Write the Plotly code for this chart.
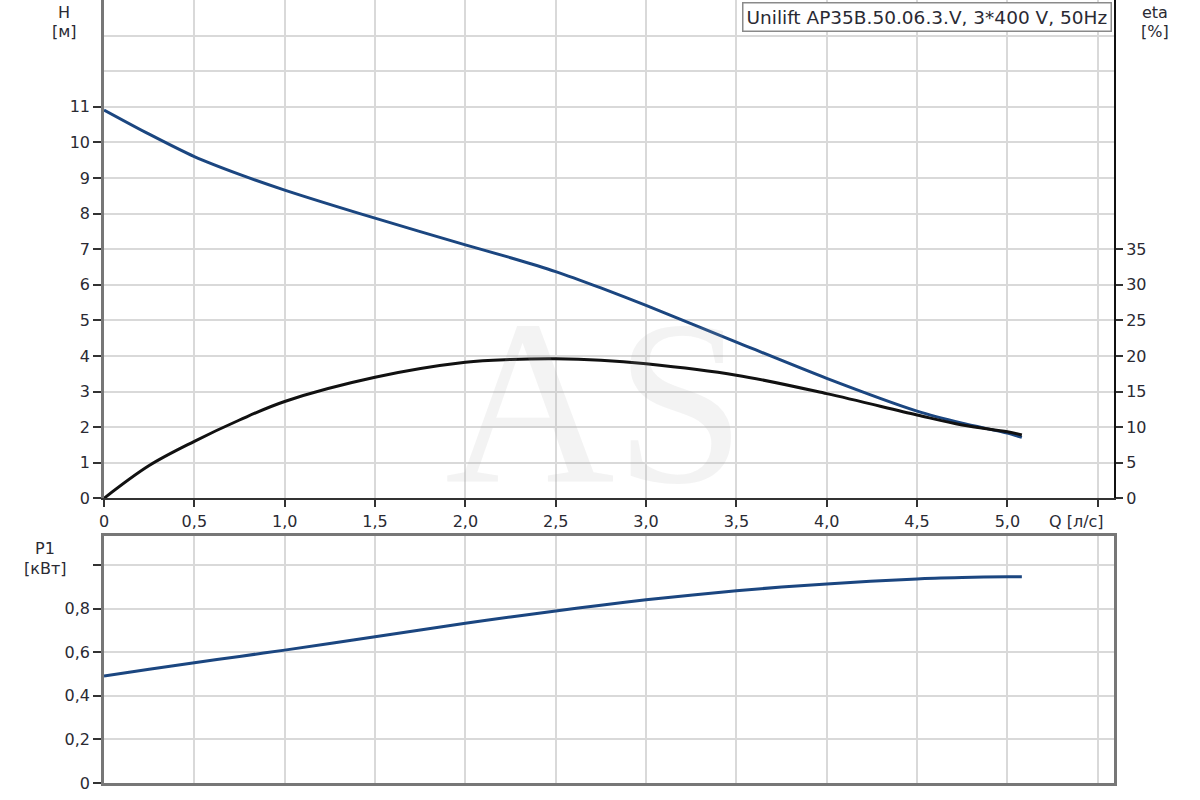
import plotly.graph_objects as go

# ---- data ----
Q = [0, 0.25, 0.5, 0.75, 1.0, 1.5, 2.0, 2.25, 2.5, 2.75, 3.0, 3.5, 4.0, 4.5, 4.75, 5.0, 5.08]
H = [10.91, 10.23, 9.60, 9.10, 8.66, 7.87, 7.12, 6.76, 6.37, 5.91, 5.42, 4.39, 3.37, 2.45, 2.11, 1.83, 1.71]
ETA = [0, 4.6, 8.0, 11.0, 13.6, 17.0, 19.1, 19.5, 19.6, 19.4, 18.9, 17.3, 14.7, 11.7, 10.3, 9.35, 8.9]
P1 = [0.491, 0.522, 0.552, 0.581, 0.610, 0.671, 0.733, 0.762, 0.790, 0.816, 0.841, 0.883, 0.914, 0.937, 0.943, 0.947, 0.947]

Q_TICKS = [0, 0.5, 1.0, 1.5, 2.0, 2.5, 3.0, 3.5, 4.0, 4.5, 5.0, 5.5]
Q_LABELS = ["0", "0,5", "1,0", "1,5", "2,0", "2,5", "3,0", "3,5", "4,0", "4,5", "5,0", ""]
H_TICKS = list(range(0, 12))
H_EXTRA_GRID = [12, 13, 14]
ETA_TICKS = [0, 5, 10, 15, 20, 25, 30, 35]
P_TICKS = [0, 0.2, 0.4, 0.6, 0.8, 1.0]
P_LABELS = ["0", "0,2", "0,4", "0,6", "0,8", ""]

TITLE = "Unilift AP35B.50.06.3.V, 3*400 V, 50Hz"

BLUE = "#1b4680"
BLACK = "#111111"
GRID = "#d9d9d9"
TXT = "#2a2a33"
FONT = "DejaVu Sans, Liberation Sans, Arial, sans-serif"

fig = go.Figure()
fig.add_trace(go.Scatter(x=Q, y=H, mode="lines", line=dict(color=BLUE, width=3, shape="spline", smoothing=0.7),
                         xaxis="x", yaxis="y", showlegend=False))
fig.add_trace(go.Scatter(x=Q, y=ETA, mode="lines", line=dict(color=BLACK, width=3, shape="spline", smoothing=1.0),
                         xaxis="x", yaxis="y2", showlegend=False))
fig.add_trace(go.Scatter(x=Q, y=P1, mode="lines", line=dict(color=BLUE, width=3, shape="spline", smoothing=0.7),
                         xaxis="x2", yaxis="y3", showlegend=False))

XR = [0, 5.59]
tickfont = dict(family=FONT, size=16, color=TXT)

fig.update_layout(
    width=1200, height=800, autosize=False,
    margin=dict(l=104, r=86, t=0, b=17),
    paper_bgcolor="white", plot_bgcolor="white",
    font=dict(family=FONT, size=16, color=TXT),
    xaxis=dict(domain=[0, 1], anchor="y", range=XR, tickmode="array", tickvals=Q_TICKS, ticktext=Q_LABELS,
               showgrid=True, gridcolor=GRID, gridwidth=1.5, zeroline=False,
               showline=True, linecolor="#333333", linewidth=2,
               ticks="outside", ticklen=7, tickwidth=2, tickcolor="#333333", tickfont=tickfont),
    yaxis=dict(domain=[0.3636, 1], anchor="x", range=[0, 14], tickmode="array", tickvals=H_TICKS,
               showgrid=True, gridcolor=GRID, gridwidth=1.5, zeroline=False,
               showline=True, linecolor="#777777", linewidth=2.5,
               ticks="outside", ticklen=8, tickwidth=2, tickcolor="#333333", tickfont=tickfont,
               minor=dict(tickmode="array", tickvals=H_EXTRA_GRID, showgrid=True, gridcolor=GRID, gridwidth=1.5, ticks="")),
    yaxis2=dict(overlaying="y", anchor="x", side="right", range=[0, 70], tickmode="array", tickvals=ETA_TICKS,
                showgrid=False, zeroline=False, showline=True, linecolor="#111111", linewidth=2,
                ticks="outside", ticklen=7, tickwidth=2, tickcolor="#333333", tickfont=tickfont),
    xaxis2=dict(domain=[0, 1], anchor="y3", range=XR, tickmode="array", tickvals=Q_TICKS,
                showticklabels=False, showgrid=True, gridcolor=GRID, gridwidth=1.5, zeroline=False,
                showline=True, mirror=True, linecolor="#777777", linewidth=2.5, ticks=""),
    yaxis3=dict(domain=[0, 0.3155], anchor="x2", range=[0, 1.134], tickmode="array", tickvals=P_TICKS, ticktext=P_LABELS,
                showgrid=True, gridcolor=GRID, gridwidth=1.5, zeroline=False,
                showline=True, mirror=True, linecolor="#777777", linewidth=2.5,
                ticks="outside", ticklen=8, tickwidth=2, tickcolor="#333333", tickfont=tickfont),
)

def px_x(px):
    return (px - 104) / 1010.0

def px_y(py):
    return (783 - py) / 783.0

ann = []
def label(text, x, y, size=16, xanchor="center", yanchor="middle"):
    ann.append(dict(text=text, x=px_x(x), y=px_y(y), xref="paper", yref="paper", showarrow=False,
                    xanchor=xanchor, yanchor=yanchor, font=dict(family=FONT, size=size, color=TXT)))

label("H", 64, 12)
label("[м]", 64, 32)
label("eta", 1155, 12)
label("[%]", 1155, 32)
label("P1", 45, 548)
label("[кВт]", 45, 568)
label("Q [л/с]", 1076, 521)

# watermark
ann.append(dict(text="AS", x=px_x(595), y=px_y(402), xref="paper", yref="paper", showarrow=False,
                xanchor="center", yanchor="middle", height=185, valign="middle",
                font=dict(family="Liberation Serif, DejaVu Serif, serif", size=235, color="rgba(170,170,170,0.14)")))

# title box
ann.append(dict(text=TITLE, x=px_x(1112), y=px_y(2), xref="paper", yref="paper", showarrow=False,
                xanchor="right", yanchor="top", bgcolor="white", bordercolor="#8a8a8a", borderwidth=1.5,
                borderpad=3, font=dict(family=FONT, size=18.5, color=TXT)))

fig.update_layout(annotations=ann)
fig.write_html("out.html", config={"displayModeBar": False},
               post_script="document.body.style.margin='0px';")
